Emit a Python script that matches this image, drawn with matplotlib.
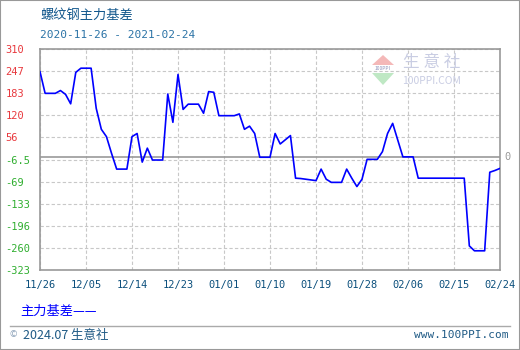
import numpy as np
import pandas as pd
import matplotlib
matplotlib.use('Agg')
import matplotlib.pyplot as plt
from matplotlib.patches import Polygon
from matplotlib.lines import Line2D

plt.rcParams['font.family'] = ['Noto Sans CJK SC', 'DejaVu Sans']

#%% data
title = '螺纹钢主力基差'
subtitle = '2020-11-26 - 2021-02-24'
series_name = '主力基差'
start_date = '2020-11-26'
end_date = '2021-02-24'

# one value per calendar day
basis = [245, 183, 183, 183, 191, 180, 153, 243, 255, 255,
         255, 140, 80, 59, 11, -34, -34, -34, 59, 68,
         -14, 26, -8, -8, -8, 181, 100, 237, 137, 152,
         152, 152, 126, 188, 186, 119, 119, 119, 119, 124,
         80, 89, 68, 0, 0, 0, 68, 38, 50, 62,
         -60, -61, -63, -65, -67, -34, -63, -72, -72, -72,
         -34, -60, -84, -63, -6, -6, -6, 16, 68, 97,
         49, 1, 1, 1, -60, -60, -60, -60, -60, -60,
         -60, -60, -60, -60, -254, -268, -268, -268, -43, -38,
         -32]

y_ticks = [310, 247, 183, 120, 56, -6.5, -69, -133, -196, -260, -323]
y_labels = ['310', '247', '183', '120', '56', '-6.5', '-69', '-133', '-196', '-260', '-323']
x_labels = ['11/26', '12/05', '12/14', '12/23', '01/01', '01/10',
            '01/19', '01/28', '02/06', '02/15', '02/24']

dates = pd.date_range(start_date, end_date, freq='D')
x_ticks = pd.date_range(start_date, end_date, freq='9D')

#%% figure
W, H = 520, 350
fig = plt.figure(figsize=(W / 100, H / 100), dpi=100)
fig.patch.set_facecolor('white')

def fx(px):
    return px / W

def fy(py):
    return 1 - py / H

ax = fig.add_axes([fx(40), fy(270), (500 - 40) / W, (270 - 49) / H])

ax.plot(dates, basis, color='#0000ff', linewidth=1.2, zorder=3)

ax.set_xlim(dates[0], dates[-1])
ax.set_ylim(-323, 310)

# evenly spaced grid rows, as in the source chart
y_pos = np.linspace(310, -323, len(y_ticks))
ax.set_yticks(y_pos)
ax.set_yticklabels(y_labels)
for lab, v in zip(ax.get_yticklabels(), y_ticks):
    lab.set_color('#e8383d' if v > 0 else '#2fae2f')
    lab.set_horizontalalignment('left')
    lab.set_fontfamily('DejaVu Sans Mono')
    lab.set_fontsize(7.5)
ax.tick_params(axis='y', length=0, pad=25)

ax.set_xticks(x_ticks)
ax.set_xticklabels(x_labels, fontfamily='DejaVu Sans Mono', fontsize=7.5,
                   color='#0b4f7c')
ax.tick_params(axis='x', length=0, pad=7)

ax.grid(True, color='#c8c8c8', linestyle=(0, (3, 2)), linewidth=0.8)
ax.axhline(0, color='#999999', linewidth=1.2, zorder=2)
for s in ax.spines.values():
    s.set_color('#999999')
    s.set_linewidth(1.2)

ax.text(1.01, 0, '0', transform=ax.get_yaxis_transform(), color='#999999',
        fontsize=7.5, fontfamily='DejaVu Sans Mono', va='center', ha='left')

# titles
fig.text(fx(40), fy(15), title, color='#12578c', fontsize=9.5, va='center')
fig.text(fx(40), fy(35), subtitle, color='#2b73a6', fontsize=8,
         fontfamily='DejaVu Sans Mono', va='center')

# watermark
fig.patches.append(Polygon([[fx(383), fy(55)], [fx(372), fy(65)], [fx(394), fy(65)]],
                           closed=True, transform=fig.transFigure,
                           facecolor='#f4b8b8', edgecolor='none', zorder=1))
fig.patches.append(Polygon([[fx(372), fy(73)], [fx(394), fy(73)], [fx(383), fy(85)]],
                           closed=True, transform=fig.transFigure,
                           facecolor='#bfe8c4', edgecolor='none', zorder=1))
fig.text(fx(383), fy(69), '100PPI', fontsize=3.5, color='#8a8fb8',
         ha='center', va='center')
fig.text(fx(432), fy(63), '生 意 社', fontsize=12, color='#c9cde3',
         ha='center', va='center')
fig.text(fx(432), fy(81), '100PPI.COM', fontsize=7.5, color='#c9cde3',
         ha='center', va='center')

# legend
fig.text(fx(20), fy(311), series_name + '——', color='#0000ff', fontsize=9.5,
         va='center')

# footer
fig.lines.append(Line2D([fx(10), fx(510)], [fy(326), fy(326)],
                        transform=fig.transFigure, color='#aaaaaa', linewidth=1))
fig.text(fx(10), fy(335), '©', color='#8aa0b8', fontsize=6.5, va='center')
fig.text(fx(23), fy(335), '2024.07 生意社', color='#1f5a85', fontsize=9,
         va='center')
fig.text(fx(509), fy(335), 'www.100PPI.com', color='#1f5a85', fontsize=8,
         fontfamily='DejaVu Sans Mono', ha='right', va='center')

# outer border
fig.patches.append(plt.Rectangle((0, 0), 1, 1, transform=fig.transFigure,
                                 fill=False, edgecolor='#999999', linewidth=1.5))

fig.savefig('out.png', dpi=100)
